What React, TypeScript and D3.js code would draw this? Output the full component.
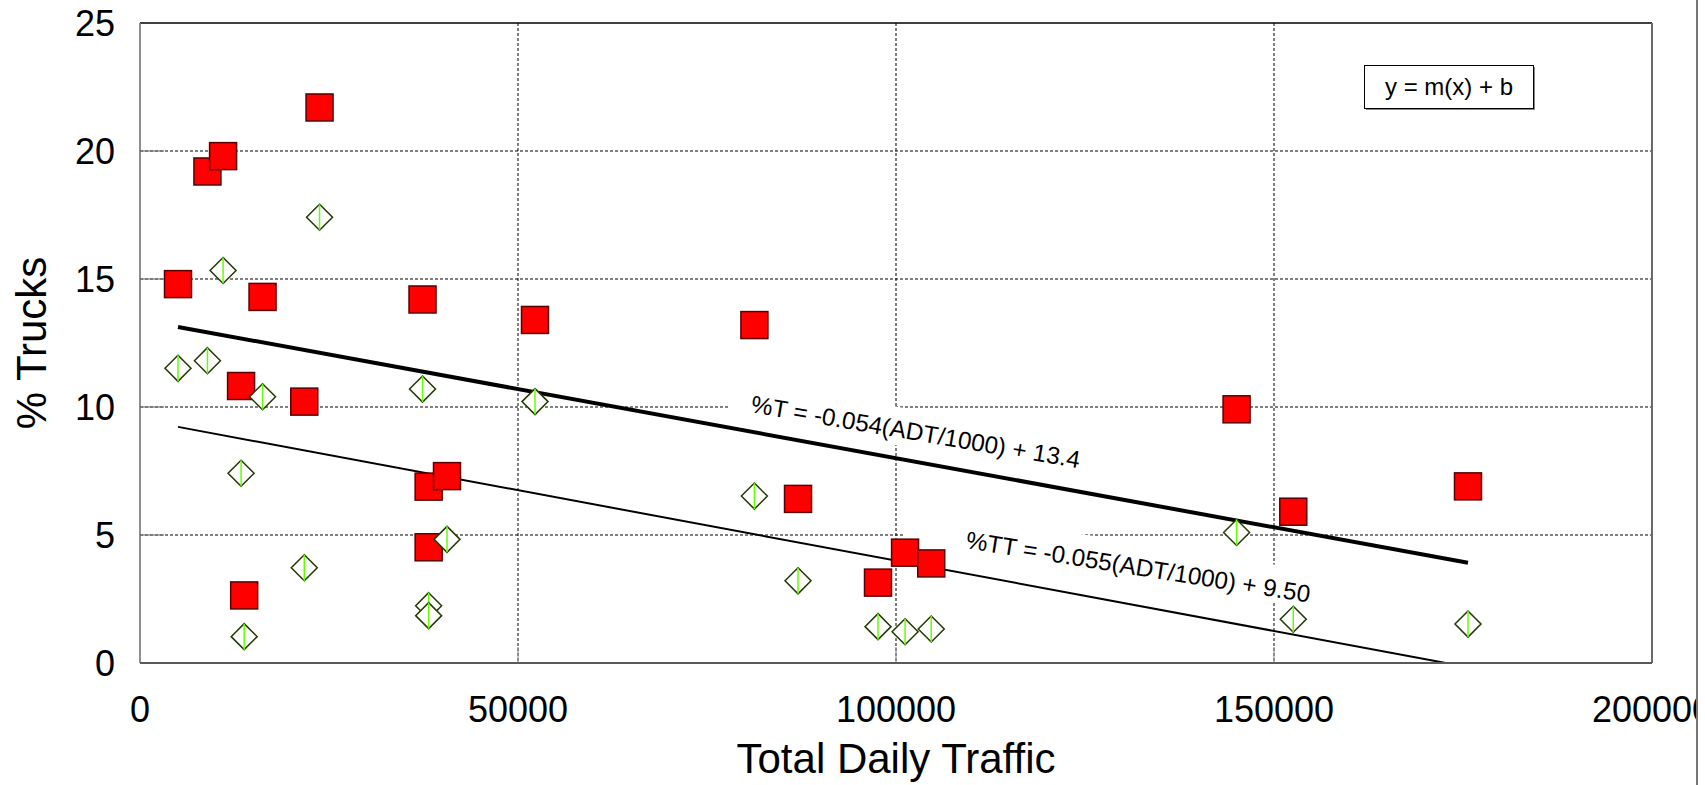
import React from "react";
import * as d3 from "d3";

// ---- data ----
const adt = [5026, 8920, 10990, 13370, 13780, 16210, 21730, 23750, 37370, 38180, 38180, 40610, 52250, 81270, 87040, 97620, 101200, 104660, 145050, 152550, 175660];
const pctTrucks = [14.8, 19.2, 19.8, 10.82, 2.64, 14.3, 10.21, 21.7, 14.2, 6.89, 4.52, 7.3, 13.4, 13.2, 6.41, 3.14, 4.31, 3.89, 9.91, 5.91, 6.9];
const pctTT = [11.51, 11.81, 15.33, 7.41, 1.03, 10.4, 3.72, 17.41, 10.7, 2.24, 1.85, 4.83, 10.21, 6.52, 3.21, 1.42, 1.22, 1.33, 5.1, 1.71, 1.52];

const xTicks = [0, 50000, 100000, 150000, 200000];
const yTicks = [0, 5, 10, 15, 20, 25];

// regression: %T = m*(ADT/1000)+b
const fitT = { m: -0.054, b: 13.4, label: "%T = -0.054(ADT/1000) + 13.4", ax: 80700, ay: 9.8, angle: 9.7, padL: 22, padR: 22, padTop: 30, padBot: 8 };
const fitTT = { m: -0.055, b: 9.5, label: "%TT = -0.055(ADT/1000) + 9.50", ax: 109130, ay: 4.49, angle: 9.0, padL: 63, padR: 30, padTop: 32, padBot: 5 };

const W = 1705, H = 785;
const L = 140, R = 1652, T = 23, B = 663;
const FONT = "'Liberation Sans', Arial, sans-serif";

export default function App() {
  const x = d3.scaleLinear().domain([0, 200000]).range([L, R]);
  const y = d3.scaleLinear().domain([0, 25]).range([B, T]);
  const xMin = d3.min(adt)!, xMax = d3.max(adt)!;
  const line = d3.line<number>().x((d) => x(d[0])).y((d) => y(d[1]));

  const fitPath = (f: typeof fitT) =>
    line([[xMin, f.m * xMin / 1000 + f.b], [xMax, f.m * xMax / 1000 + f.b]] as any) as string;

  const labelWidth = (f: typeof fitT) => f.label.length; // unused helper

  const sq = 27;
  const dm = 13;

  const renderLabel = (f: typeof fitT, key: string) => {
    const px = x(f.ax), py = y(f.ay);
    const textLen = f === fitT ? 333 : 349;
    return (
      <g key={key} transform={`translate(${px},${py}) rotate(${f.angle})`}>
        <rect x={-f.padL} y={-f.padTop} width={textLen + f.padL + f.padR} height={f.padTop + f.padBot} fill="#fff" />
      </g>
    );
  };
  const renderLabelText = (f: typeof fitT, key: string) => {
    const px = x(f.ax), py = y(f.ay);
    return (
      <text key={key} transform={`translate(${px},${py}) rotate(${f.angle})`} fontSize={24.3} fontFamily={FONT} fill="#000">
        {f.label}
      </text>
    );
  };

  return (
    <svg width={W} height={H} style={{ position: "absolute", left: 0, top: 0, display: "block", background: "#fff" }}>
      <defs>
        <clipPath id="plotClip">
          <rect x={L} y={T} width={R - L} height={B - T} />
        </clipPath>
        <clipPath id="pageClip">
          <rect x={0} y={0} width={1696} height={H} />
        </clipPath>
      </defs>
      <rect x={0} y={0} width={W} height={H} fill="#fff" />

      {/* gridlines */}
      {yTicks.filter((t) => t > 0 && t < 25).map((t) => (
        <line key={"gy" + t} x1={L} x2={R} y1={y(t)} y2={y(t)} stroke="#000" strokeWidth={1} strokeDasharray="3,2" />
      ))}
      {xTicks.filter((t) => t > 0 && t < 200000).map((t) => (
        <line key={"gx" + t} x1={x(t)} x2={x(t)} y1={T} y2={B} stroke="#000" strokeWidth={1} strokeDasharray="3,2" />
      ))}
      {/* inside ticks */}
      {yTicks.filter((t) => t > 0 && t < 25).map((t) => (
        <line key={"ty" + t} x1={L} x2={L + 24} y1={y(t)} y2={y(t)} stroke="#777" strokeWidth={1.2} />
      ))}
      {xTicks.filter((t) => t > 0 && t < 200000).map((t) => (
        <line key={"tx" + t} x1={x(t)} x2={x(t)} y1={B} y2={B - 16} stroke="#999" strokeWidth={1.2} />
      ))}

      {/* label backgrounds */}
      {renderLabel(fitT, "bgT")}
      {renderLabel(fitTT, "bgTT")}

      {/* regression lines */}
      <g clipPath="url(#plotClip)">
        <path d={fitPath(fitT)} stroke="#000" strokeWidth={4} fill="none" />
        <path d={fitPath(fitTT)} stroke="#000" strokeWidth={2} fill="none" />
      </g>
      {renderLabelText(fitT, "lT")}
      {renderLabelText(fitTT, "lTT")}

      {/* equation box */}
      <rect x={1366} y={67} width={169} height={43} fill="#888" />
      <rect x={1364.5} y={65.5} width={169} height={43} fill="#fff" stroke="#000" strokeWidth={1} />
      <text x={1449} y={95} textAnchor="middle" fontSize={24} fontFamily={FONT}>y = m(x) + b</text>

      {/* squares: % trucks */}
      {adt.map((a, i) => (
        <rect key={"s" + i} x={x(a) - sq / 2} y={y(pctTrucks[i]) - sq / 2} width={sq} height={sq}
          fill="#ff0000" stroke="#5a0000" strokeWidth={1.5} />
      ))}
      {/* diamonds: % tractor trailers */}
      {adt.map((a, i) => {
        const cx = x(a), cy = y(pctTT[i]);
        return (
          <g key={"d" + i}>
            <path d={`M${cx},${cy - dm}L${cx + dm},${cy}L${cx},${cy + dm}L${cx - dm},${cy}Z`} fill="#fff" stroke="#203a00" strokeWidth={1.5} />
            <line x1={cx} x2={cx} y1={cy - dm} y2={cy + dm} stroke="#66ff00" strokeWidth={1.5} />
          </g>
        );
      })}

      {/* frame */}
      <line x1={L} x2={R} y1={T} y2={T} stroke="#000" strokeWidth={1.5} />
      <line x1={R} x2={R} y1={T} y2={B} stroke="#6a6a6a" strokeWidth={2} />
      <line x1={L} x2={L} y1={T} y2={B} stroke="#6a6a6a" strokeWidth={1.5} />
      <line x1={L} x2={R} y1={B} y2={B} stroke="#5a5a5a" strokeWidth={2} />

      {/* tick labels */}
      {yTicks.map((t) => (
        <text key={"yl" + t} x={115} y={y(t)} dy="0.36em" textAnchor="end" fontSize={36} fontFamily={FONT}>{t}</text>
      ))}
      <g clipPath="url(#pageClip)">
        {xTicks.map((t) => (
          <text key={"xl" + t} x={x(t)} y={722} textAnchor="middle" fontSize={36} fontFamily={FONT}>{t}</text>
        ))}
      </g>

      {/* axis titles */}
      <text x={(L + R) / 2} y={773} textAnchor="middle" fontSize={42} fontFamily={FONT}>Total Daily Traffic</text>
      <text transform={`translate(46,${(T + B) / 2}) rotate(-90)`} textAnchor="middle" fontSize={42} fontFamily={FONT}>% Trucks</text>

      {/* outer page edge */}
      <line x1={1697} x2={1697} y1={0} y2={H} stroke="#777" strokeWidth={2} />
    </svg>
  );
}
